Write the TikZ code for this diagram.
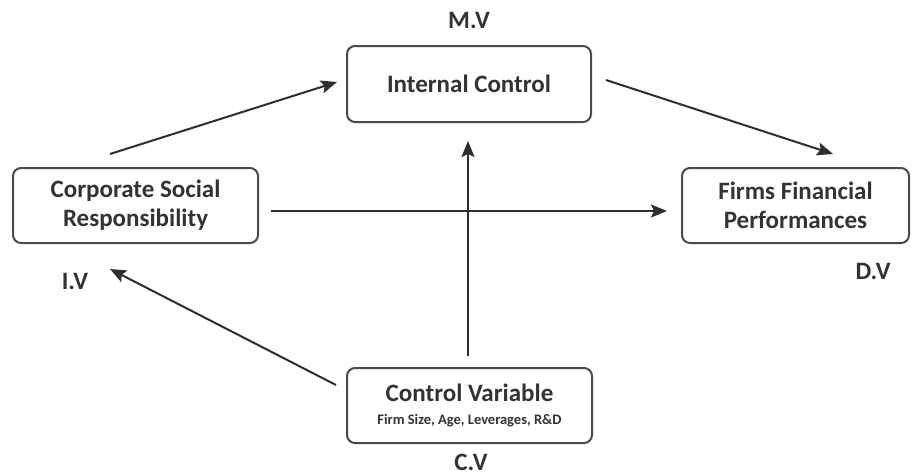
\documentclass[tikz,border=0pt]{standalone}
\usepackage{fontspec}
\setmainfont{Carlito}
\usetikzlibrary{arrows.meta}
\definecolor{boxline}{HTML}{4A4A4A}
\definecolor{txt}{HTML}{333333}
\definecolor{arrline}{HTML}{2E2E2E}
\begin{document}
\begin{tikzpicture}[x=1pt,y=-1pt,
  box/.style={draw=boxline,line width=2pt,rounded corners=8pt,fill=white,
    text=txt,font=\fontsize{25}{29}\selectfont\bfseries,align=center,
    inner sep=0pt,anchor=center},
  lbl/.style={text=txt,font=\fontsize{25}{29}\selectfont\bfseries,inner sep=0pt},
  arr/.style={draw=arrline,line width=2pt,-{Stealth[length=16pt,width=13pt,inset=3pt]}}]
\useasboundingbox (0,0) rectangle (912,475);
\node[box,minimum width=245pt,minimum height=75pt] (csr) at (135.5,205.5) {Corporate Social\\Responsibility};
\node[box,minimum width=244pt,minimum height=76pt] (ic) at (469,84) {Internal Control};
\node[box,minimum width=227pt,minimum height=75pt] (ffp) at (795.5,205.5) {Firms Financial\\Performances};
\node[box,minimum width=245pt,minimum height=75pt] (cv) at (469.5,405.5) {};
\node[text=txt,font=\fontsize{25}{29}\selectfont\bfseries,inner sep=0pt] (cvt) at (469.5,393) {Control Variable};
\node[text=txt,font=\fontsize{14.5}{17}\selectfont\bfseries,inner sep=0pt] (cvs) at (469.5,421) {Firm Size, Age, Leverages, R\&D};
\node[lbl] (iv) at (75,281) {I.V};
\node[lbl] (dv) at (873,271) {D.V};
\node[lbl] (mv) at (469,20) {M.V};
\node[lbl] (cvl) at (471,462) {C.V};
\draw[arr] ([shift={(-25.5,-13)}]csr.north) -- ([shift={(-9,-2)}]ic.west);
\draw[arr] ([shift={(14,-4)}]ic.east) -- ([shift={(37.5,-13)}]ffp.north);
\draw[arr] ([shift={(12,5.5)}]csr.east) -- ([shift={(-14,5.5)}]ffp.west);
\draw[arr] ([shift={(-1.5,-11)}]cv.north) -- ([shift={(-1,18)}]ic.south);
\draw[arr] ([shift={(-10,-20.5)}]cv.west) -- ([shift={(-25.5,25)}]csr.south);
\end{tikzpicture}
\end{document}
